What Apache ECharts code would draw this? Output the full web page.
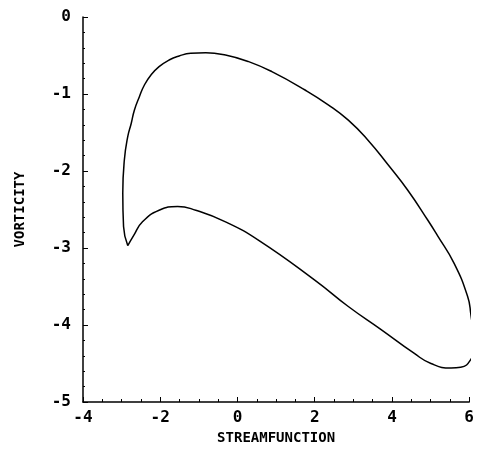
<!DOCTYPE html>
<html>
<head>
<meta charset="utf-8">
<script src="https://cdn.jsdelivr.net/npm/echarts@6/dist/echarts.min.js"></script>
<style>
  html, body { margin: 0; padding: 0; background: #fff; }
</style>
</head>
<body>
<!-- chart container -->
<div id="main" style="width: 477px;height:462px;"></div>
<script>
// streamfunction (x) values along the closed loop
var streamfunction = [
  -2.84, -2.95, -2.97, -2.93, -2.84, -2.75, -2.67, -2.54, -2.41, -2.24,
  -2.03, -1.77, -1.51, -1.21, -0.82, -0.31, 0.29, 0.89, 1.75, 2.35,
  2.87, 3.38, 3.90, 4.41, 4.93, 5.18, 5.61, 5.96, 6.04, 6.13,
  6.04, 5.78, 5.53, 5.01, 4.58, 3.72, 2.87, 2.01, 0.55, -0.31,
  -1.08, -1.55, -2.03, -2.46, -2.69, -2.84
];
// vorticity (y) values along the same loop
var vorticity = [
  -2.97, -2.72, -2.29, -1.86, -1.55, -1.38, -1.21, -1.035, -0.883, -0.753,
  -0.645, -0.558, -0.506, -0.471, -0.464, -0.494, -0.58, -0.71, -0.948, -1.14,
  -1.34, -1.60, -1.92, -2.25, -2.64, -2.84, -3.20, -3.63, -3.85, -4.28,
  -4.45, -4.55, -4.56, -4.50, -4.37, -4.06, -3.76, -3.42, -2.90, -2.66,
  -2.51, -2.46, -2.51, -2.66, -2.84, -2.97
];
var xTicks = [-4, -2, 0, 2, 4, 6];
var yTicks = [0, -1, -2, -3, -4, -5];

var myChart = echarts.init(document.getElementById("main"));

var labelFont = {
  color: "#000",
  fontFamily: "DejaVu Sans Mono",
  fontWeight: "bold",
  fontSize: 16
};

var option = {
  animation: false,
  grid: { left: 83, right: 5, top: 17, bottom: 60 },
  xAxis: {
    type: "value",
    min: xTicks[0],
    max: xTicks[xTicks.length - 1],
    interval: 2,
    name: "STREAMFUNCTION",
    nameLocation: "middle",
    nameGap: 28,
    nameTextStyle: { color: "#000", fontFamily: "DejaVu Sans Mono", fontWeight: "bold", fontSize: 14 },
    axisLine: { onZero: false, lineStyle: { color: "#000", width: 1.5 } },
    axisTick: { inside: true, length: 5, lineStyle: { color: "#000" } },
    minorTick: { show: true, splitNumber: 4, length: 3, lineStyle: { color: "#000" } },
    axisLabel: Object.assign({ margin: 8 }, labelFont),
    splitLine: { show: false }
  },
  yAxis: {
    type: "value",
    min: yTicks[yTicks.length - 1],
    max: yTicks[0],
    interval: 1,
    name: "VORTICITY",
    nameLocation: "middle",
    nameGap: 56,
    nameRotate: 90,
    nameTextStyle: { color: "#000", fontFamily: "DejaVu Sans Mono", fontWeight: "bold", fontSize: 14 },
    axisLine: { show: true, onZero: false, lineStyle: { color: "#000", width: 1.5 } },
    axisTick: { show: true, inside: true, length: 5, lineStyle: { color: "#000" } },
    minorTick: { show: true, splitNumber: 5, length: 2, lineStyle: { color: "#000" } },
    axisLabel: Object.assign({ margin: 12 }, labelFont),
    splitLine: { show: false }
  },
  series: [
    {
      type: "line",
      data: streamfunction.map(function (x, i) { return [x, vorticity[i]]; }),
      smooth: 0.5,
      showSymbol: false,
      clip: false,
      lineStyle: { color: "#000", width: 1.5 }
    }
  ]
};

myChart.setOption(option);
</script>
</body>
</html>
